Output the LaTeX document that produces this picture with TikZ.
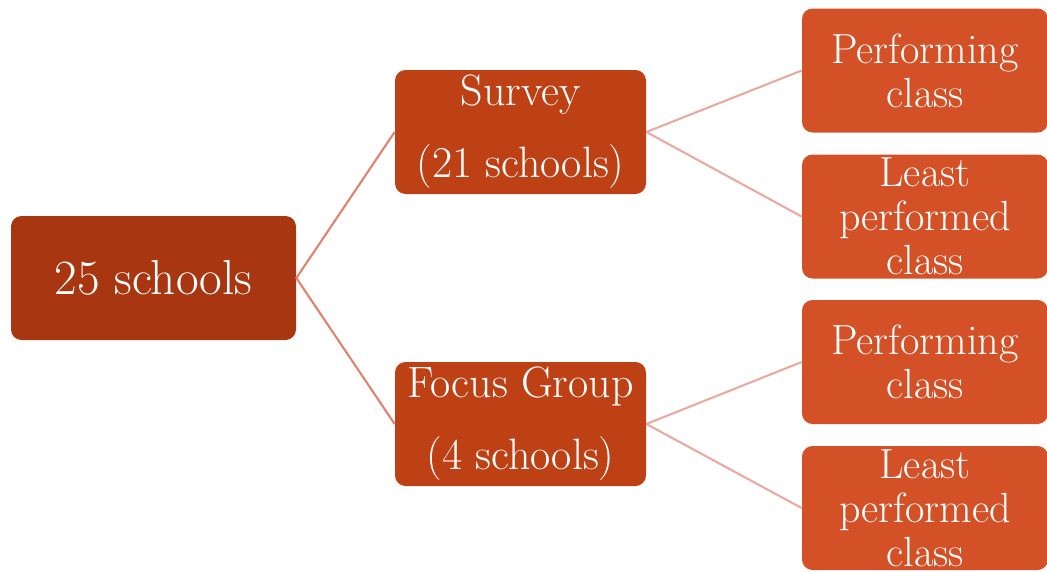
\documentclass[tikz,border=0pt]{standalone}
\usepackage{xcolor}
\usepackage{tikz}
\usetikzlibrary{arrows.meta,positioning}

\definecolor{rootred}{HTML}{A83711}
\definecolor{midred}{HTML}{BE4015}
\definecolor{leafred}{HTML}{D45026}
\definecolor{linkA}{HTML}{E0826C}
\definecolor{linkB}{HTML}{E9AAA0}

\begin{document}
\begin{tikzpicture}[
  box/.style={rounded corners=6pt, align=center, text=white, inner sep=0pt,
    minimum height=2.48cm},
  rootbox/.style={box, fill=rootred, minimum width=5.7cm, font=\fontsize{28}{32}\selectfont},
  midbox/.style={box, fill=midred, minimum width=5.02cm, font=\fontsize{25}{41}\selectfont},
  leafbox/.style={box, fill=leafred, minimum width=4.92cm, font=\fontsize{24}{25}\selectfont},
  lnkA/.style={linkA, line width=1.2pt},
  lnkB/.style={linkB, line width=1.2pt}
]
  \useasboundingbox (0,0) rectangle (20.94,-11.42);

  % root
  \node[rootbox] (all) at (3.07,-5.56) {25 schools};

  % second level
  \node[midbox] (survey) at (10.41,-2.64) {Survey\\(21 schools)};
  \node[midbox] (focus) at (10.41,-8.48) {Focus Group\\(4 schools)};

  % classes
  \node[leafbox] (s1) at (18.5,-1.41) {Performing\\class};
  \node[leafbox] (s2) at (18.5,-4.33) {Least\\performed\\class};
  \node[leafbox] (f1) at (18.5,-7.24) {Performing\\class};
  \node[leafbox] (f2) at (18.5,-10.16) {Least\\performed\\class};

  \draw[lnkA] (survey.west) -- (all.east) -- (focus.west);
  \foreach \a/\b in {survey/s1, survey/s2, focus/f1, focus/f2} {
    \draw[lnkB] (\a.east) -- (\b.west);
  }
\end{tikzpicture}
\end{document}
